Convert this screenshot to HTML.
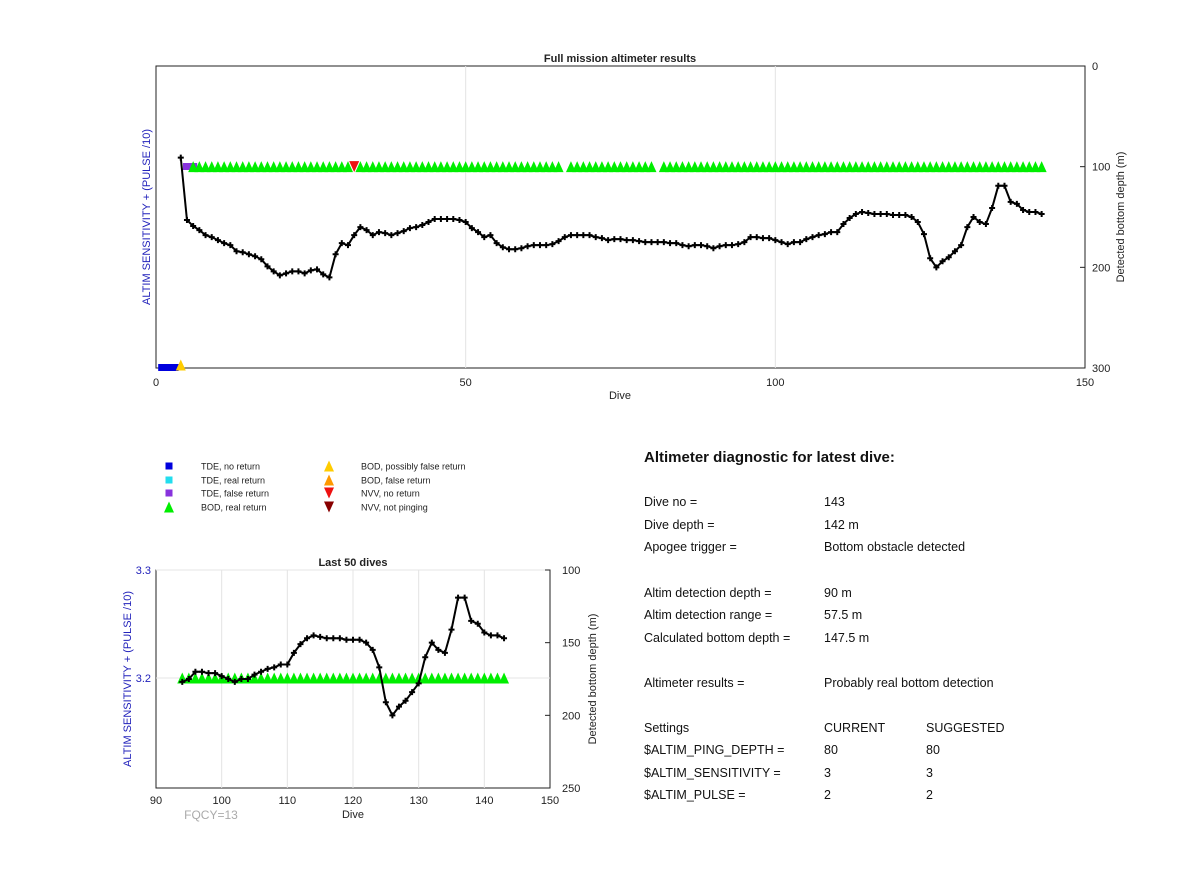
<!DOCTYPE html>
<html><head><meta charset="utf-8"><style>
body{margin:0;background:#fff;width:1200px;height:885px;overflow:hidden;font-family:"Liberation Sans",sans-serif}
svg text{font-family:"Liberation Sans",sans-serif}
</style></head><body>
<svg id="s" width="1200" height="885"></svg>
<script>
const dives=[];for(let d=4;d<=143;d++)dives.push(d);
const depths=[91,153,159,163,168,170,173,176,178,184,185,187,189,192,199,204,208,206,204,204,206,203,202,207,210,187,176,178,168,160,163,168,165,166,168,166,164,161,160,158,155,152,152,152,152,153,155,161,165,170,168,176,180,182,182,181,179,178,178,178,177,174,170,168,168,168,168,170,171,173,172,172,173,173,174,175,175,175,175,176,176,178,179,178,178,179,181,179,178,178,177,175,170,170,171,171,173,175,177,175,175,172,170,168,167,165,165,157,151,147,145,146,147,147,147,148,148,148,150,155,167,191,200,194,190,184,178,160,150,155,157,141,119,119,135,137,143,145,145,147];
const bodDives=[];for(let d=6;d<=143;d++){if(d!==32&&d!==66&&d!==81)bodDives.push(d);}
const nvvDives=[32];
const tdeFalseDives=[5,6];
const tdeNoDives=[1,2,3];
const bodPossDives=[4];
const topXTicks=[0,50,100,150];
const topYTicks=[0,100,200,300];
const botXTicks=[90,100,110,120,130,140,150];
const botYTicks=[100,150,200,250];
const botLTicks=[3.3,3.2];

const S=document.getElementById('s');const NS='http://www.w3.org/2000/svg';
function el(t,a,p){const e=document.createElementNS(NS,t);for(const k in a)e.setAttribute(k,a[k]);(p||S).appendChild(e);return e;}
function txt(x,y,s,a,p){const e=el('text',Object.assign({x:x,y:y,'font-size':11,fill:'#222'},a||{}),p);e.textContent=s;return e;}
function tri(x,y,c,down,g,n){const h=5.5;const pts=down?`${x-5},${y-h} ${x+5},${y-h} ${x},${y+h}`:`${x-5},${y+h} ${x+5},${y+h} ${x},${y-h}`;const e=el('polygon',{points:pts,fill:c},g);return e;}
function plus(x,y,g){el('path',{d:`M${x-3},${y}H${x+3}M${x},${y-3}V${y+3}`,stroke:'#000','stroke-width':2},g);}

// TOP CHART
const tx=v=>156+(v-0)/150*929, ty=v=>66+v/300*302;
const gT=el('g',{});
el('rect',{x:156,y:66,width:929,height:302,fill:'#fff',stroke:'#222','stroke-width':1},gT);
topXTicks.forEach(v=>{if(v>0&&v<150)el('line',{x1:tx(v),x2:tx(v),y1:66,y2:368,stroke:'#e4e4e4'},gT);const t=txt(tx(v),386,v,{'text-anchor':'middle'},gT);});
topYTicks.forEach(v=>{el('line',{x1:1080,x2:1085,y1:ty(v),y2:ty(v),stroke:'#222'},gT);const t=txt(1092,ty(v)+4,v,{},gT);});
txt(620,62,'Full mission altimeter results',{'text-anchor':'middle','font-weight':'bold','font-size':11},gT);
txt(620,399,'Dive',{'text-anchor':'middle'},gT);
txt(0,0,'Detected bottom depth (m)',{'text-anchor':'middle',transform:'translate(1124,217) rotate(-90)'},gT);
txt(0,0,'ALTIM SENSITIVITY + (PULSE /10)',{'text-anchor':'middle',fill:'#2222bb',transform:'translate(150,217) rotate(-90)'},gT);
tdeNoDives.forEach(d=>{const r=el('rect',{x:tx(d)-4,y:364,width:8,height:7,fill:'#0000dd'},gT);});
bodPossDives.forEach(d=>tri(tx(d),365,'#ffcc00',false,gT,'bod-possibly-false'));
tdeFalseDives.forEach(d=>{const r=el('rect',{x:tx(d)-4,y:163,width:8,height:7,fill:'#8833dd'},gT);});
bodDives.forEach(d=>tri(tx(d),ty(100),'#00ee00',false,gT,'bod-real-return'));
nvvDives.forEach(d=>tri(tx(d),ty(100),'#ee1111',true,gT,'nvv-no-return'));
let p=dives.map((d,i)=>`${i?'L':'M'}${tx(d)},${ty(depths[i])}`).join('');
const ln=el('path',{d:p,fill:'none',stroke:'#000','stroke-width':2},gT);
dives.forEach((d,i)=>plus(tx(d),ty(depths[i]),gT));

// BOTTOM CHART
const bx=v=>156+(v-90)/60*394, by=v=>570+(v-100)/150*218, bl=v=>570+(3.3-v)/0.1*108;
const gB=el('g',{});
el('rect',{x:156,y:570,width:394,height:218,fill:'#fff',stroke:'#222'},gB);
botXTicks.forEach(v=>{if(v>90&&v<150)el('line',{x1:bx(v),x2:bx(v),y1:570,y2:788,stroke:'#e4e4e4'},gB);const t=txt(bx(v),804,v,{'text-anchor':'middle'},gB);});
botLTicks.forEach(v=>{el('line',{x1:156,x2:550,y1:bl(v),y2:bl(v),stroke:'#e4e4e4'},gB);const t=txt(151,bl(v)+4,v.toFixed(1),{'text-anchor':'end',fill:'#2222bb'},gB);});
botYTicks.forEach(v=>{el('line',{x1:545,x2:550,y1:by(v),y2:by(v),stroke:'#222'},gB);const t=txt(562,by(v)+4,v,{},gB);});
txt(353,566,'Last 50 dives',{'text-anchor':'middle','font-weight':'bold'},gB);
txt(353,818,'Dive',{'text-anchor':'middle'},gB);
txt(211,819,'FQCY=13',{'text-anchor':'middle',fill:'#aaa','font-size':12},gB);
txt(0,0,'Detected bottom depth (m)',{'text-anchor':'middle',transform:'translate(596,679) rotate(-90)'},gB);
txt(0,0,'ALTIM SENSITIVITY + (PULSE /10)',{'text-anchor':'middle',fill:'#2222bb',transform:'translate(131,679) rotate(-90)'},gB);
const bd=dives.filter(d=>d>=94);
bd.forEach(d=>tri(bx(d),bl(3.2),'#00ee00',false,gB,'bod-real-return'));
p=bd.map((d,i)=>`${i?'L':'M'}${bx(d)},${by(depths[dives.indexOf(d)])}`).join('');
const ln2=el('path',{d:p,fill:'none',stroke:'#000','stroke-width':2},gB);
bd.forEach(d=>plus(bx(d),by(depths[dives.indexOf(d)]),gB));

// LEGEND
const gL=el('g',{});
const L=[['sq','#0000dd','TDE, no return',169,466],['sq','#22ddee','TDE, real return',169,480],['sq','#8833dd','TDE, false return',169,493],['up','#00ee00','BOD, real return',169,507],
['up','#ffcc00','BOD, possibly false return',329,466],['up','#ff9900','BOD, false return',329,480],['dn','#ee1111','NVV, no return',329,493],['dn','#880000','NVV, not pinging',329,507]];
L.forEach(e=>{const g=el('g',{},gL);
if(e[0]=='sq')el('rect',{x:e[3]-3.5,y:e[4]-3.5,width:7,height:7,fill:e[1]},g);else tri(e[3],e[4],e[1],e[0]=='dn',g,'legend-marker');
txt(e[3]+32,e[4]+3.5,e[2],{'font-size':9},g);});

// DIAGNOSTIC TEXT
const gD=el('g',{});
txt(644,462,'Altimeter diagnostic for latest dive:',{'font-size':15,'font-weight':'bold',fill:'#111'},gD);
const rows=[[506,'Dive no =','143'],[529,'Dive depth =','142 m'],[551,'Apogee trigger =','Bottom obstacle detected'],[597,'Altim detection depth =','90 m'],[619,'Altim detection range =','57.5 m'],[642,'Calculated bottom depth =','147.5 m'],[687,'Altimeter results =','Probably real bottom detection'],[732,'Settings','CURRENT','SUGGESTED'],[754,'$ALTIM_PING_DEPTH =','80','80'],[777,'$ALTIM_SENSITIVITY =','3','3'],[799,'$ALTIM_PULSE =','2','2']];
rows.forEach(r=>{txt(644,r[0],r[1],{'font-size':12.5,fill:'#111'},gD);txt(824,r[0],r[2],{'font-size':12.5,fill:'#111'},gD);if(r[3])txt(926,r[0],r[3],{'font-size':12.5,fill:'#111'},gD);});
</script>
</body></html>
